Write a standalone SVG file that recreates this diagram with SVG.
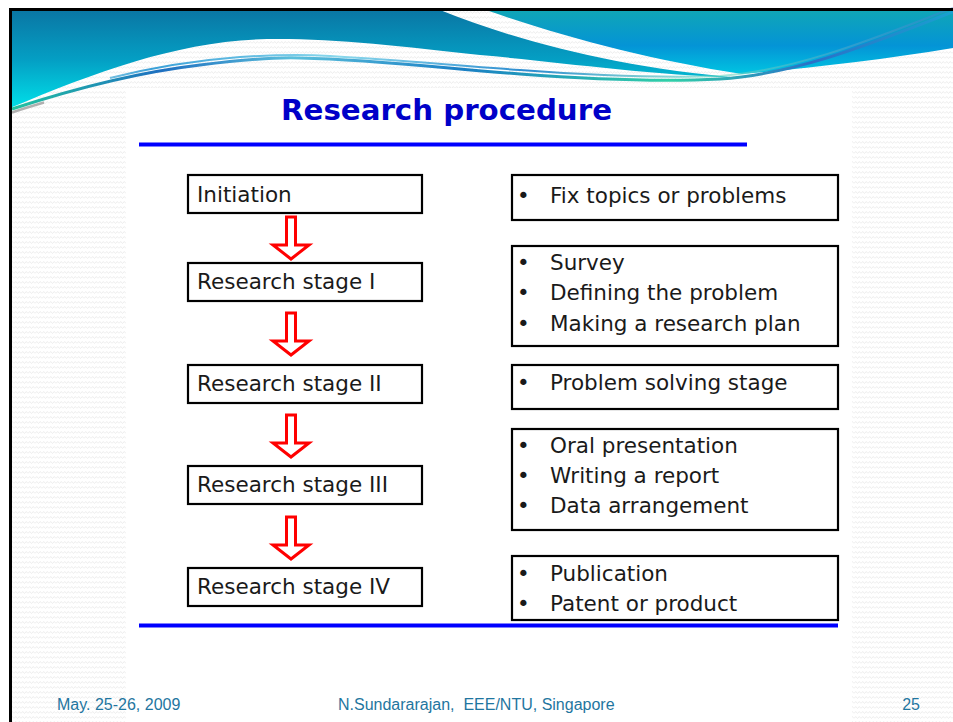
<svg xmlns="http://www.w3.org/2000/svg" width="953" height="722" viewBox="0 0 953 722">
  <defs>
    <pattern id="zigzag" width="7" height="5" patternUnits="userSpaceOnUse">
      <rect width="7" height="5" fill="#ffffff"/>
      <polyline points="0,3.5 1.75,1.5 3.5,3.5 5.25,1.5 7,3.5" fill="none" stroke="#e8e8e8" stroke-width="0.8"/>
    </pattern>
    <linearGradient id="waveLeft" x1="0" y1="10" x2="0" y2="110" gradientUnits="userSpaceOnUse">
      <stop offset="0" stop-color="#0a76a4"/>
      <stop offset="0.5" stop-color="#049fc4"/>
      <stop offset="1" stop-color="#00e2ea"/>
    </linearGradient>
    <linearGradient id="waveRight" x1="0" y1="10" x2="0" y2="75" gradientUnits="userSpaceOnUse">
      <stop offset="0" stop-color="#10a6b6"/>
      <stop offset="0.55" stop-color="#0494d6"/>
      <stop offset="1" stop-color="#00c6e2"/>
    </linearGradient>
    <linearGradient id="stripe" x1="10" y1="0" x2="953" y2="0" gradientUnits="userSpaceOnUse">
      <stop offset="0" stop-color="#22c4a0"/>
      <stop offset="0.16" stop-color="#1e6fc0"/>
      <stop offset="0.3" stop-color="#5cc0dc"/>
      <stop offset="0.48" stop-color="#1a7fc4"/>
      <stop offset="0.7" stop-color="#30d0a8"/>
      <stop offset="0.85" stop-color="#2a70c8"/>
      <stop offset="1" stop-color="#1aa0d0"/>
    </linearGradient>
    <linearGradient id="strand" x1="10" y1="0" x2="953" y2="0" gradientUnits="userSpaceOnUse">
      <stop offset="0" stop-color="#3ab0d0" stop-opacity="0"/>
      <stop offset="0.15" stop-color="#3aa0d8"/>
      <stop offset="0.35" stop-color="#8ad8ec"/>
      <stop offset="0.55" stop-color="#2c8cd0"/>
      <stop offset="0.75" stop-color="#6ad8c0" stop-opacity="0.6"/>
      <stop offset="1" stop-color="#3a80d0" stop-opacity="0.5"/>
    </linearGradient>
    <style>
      .box { fill: #ffffff; stroke: #000000; stroke-width: 2.2; }
      .label { font-family: "DejaVu Sans", Verdana, sans-serif; font-size: 21.5px; fill: #1a1a1a; }
      .arrow { fill: #ffffff; stroke: #ff0000; stroke-width: 3; stroke-linejoin: miter; }
      .rule { stroke: #0000ff; stroke-width: 4; }
      .foot { font-family: "Liberation Sans", Arial, sans-serif; font-size: 16px; fill: #1f76a0; }
    </style>
    <path id="downArrow" d="M -4.5,0 H 4.5 V 28 H 18 L 0,42 L -18,28 H -4.5 Z"/>
  </defs>

  <!-- slide background: textured, with a plain white content panel -->
  <rect width="953" height="722" fill="#ffffff"/>
  <rect x="10" y="10" width="943" height="712" fill="url(#zigzag)"/>
  <rect x="126" y="88" width="726" height="634" fill="#ffffff"/>

  <!-- header swoosh -->
  <g id="header">
    <path d="M10,10 H440 C520,42 620,68 742,78 C640,74 560,62 480,55 C400,46 330,38 267,39 C180,41 100,70 10,108 Z" fill="url(#waveLeft)"/>
    <path d="M486,10 H953 V48 C880,60 810,68 742,74 C650,60 560,36 486,10 Z" fill="url(#waveRight)"/>
    <path d="M12,112.5 C22,109 32,106 44,102.5" fill="none" stroke="#b0b0b0" stroke-width="2.5"/>
    <path d="M12,109 C70,90 140,72 200,65 C240,60 270,57 300,58 C380,60 440,68 520,74 C600,80 660,82 720,79 C800,74 880,40 953,12" fill="none" stroke="url(#stripe)" stroke-width="3"/>
    <path d="M110,78 C150,68 200,60 240,57 C270,55 300,54 330,56 C400,60 460,66 520,70 C600,76 660,78 720,76 C800,70 880,36 953,8" fill="none" stroke="url(#strand)" stroke-width="2"/>
  </g>

  <!-- slide frame -->
  <path d="M10.5,722 V9.5 H953" fill="none" stroke="#000000" stroke-width="3"/>

  <!-- title -->
  <g id="title">
    <text x="281" y="120" textLength="331" lengthAdjust="spacingAndGlyphs" font-family="'DejaVu Sans', Verdana, sans-serif" font-weight="bold" font-size="29" fill="#0000c8">Research procedure</text>
    <line class="rule" x1="139" y1="144.5" x2="747" y2="144.5"/>
  </g>

  <!-- stage boxes -->
  <g id="initiation">
    <rect class="box" x="188" y="175" width="234" height="38"/>
    <text class="label" x="197" y="202">Initiation</text>
  </g>
  <g id="stage1">
    <rect class="box" x="188" y="263" width="234" height="38"/>
    <text class="label" x="197" y="289">Research stage I</text>
  </g>
  <g id="stage2">
    <rect class="box" x="188" y="365" width="234" height="38"/>
    <text class="label" x="197" y="391">Research stage II</text>
  </g>
  <g id="stage3">
    <rect class="box" x="188" y="466" width="234" height="38"/>
    <text class="label" x="197" y="492">Research stage III</text>
  </g>
  <g id="stage4">
    <rect class="box" x="188" y="568" width="234" height="38"/>
    <text class="label" x="197" y="594">Research stage IV</text>
  </g>

  <!-- description boxes -->
  <g id="desc-initiation">
    <rect class="box" x="512" y="175" width="326" height="45"/>
    <text class="label" x="517" y="203">•</text>
    <text class="label" x="550" y="203">Fix topics or problems</text>
  </g>
  <g id="desc-stage1">
    <rect class="box" x="512" y="246" width="326" height="100"/>
    <text class="label" x="517" y="270">•</text>
    <text class="label" x="550" y="270">Survey</text>
    <text class="label" x="517" y="300">•</text>
    <text class="label" x="550" y="300">Defining the problem</text>
    <text class="label" x="517" y="331">•</text>
    <text class="label" x="550" y="331">Making a research plan</text>
  </g>
  <g id="desc-stage2">
    <rect class="box" x="512" y="365" width="326" height="44"/>
    <text class="label" x="517" y="390">•</text>
    <text class="label" x="550" y="390">Problem solving stage</text>
  </g>
  <g id="desc-stage3">
    <rect class="box" x="512" y="429" width="326" height="101"/>
    <text class="label" x="517" y="453">•</text>
    <text class="label" x="550" y="453">Oral presentation</text>
    <text class="label" x="517" y="483">•</text>
    <text class="label" x="550" y="483">Writing a report</text>
    <text class="label" x="517" y="513">•</text>
    <text class="label" x="550" y="513">Data arrangement</text>
  </g>
  <g id="desc-stage4">
    <rect class="box" x="512" y="556" width="326" height="64"/>
    <text class="label" x="517" y="581">•</text>
    <text class="label" x="550" y="581">Publication</text>
    <text class="label" x="517" y="611">•</text>
    <text class="label" x="550" y="611">Patent or product</text>
  </g>

  <!-- flow arrows between stages -->
  <g id="connectors">
    <use href="#downArrow" class="arrow" transform="translate(291,217)"/>
    <use href="#downArrow" class="arrow" transform="translate(291,313)"/>
    <use href="#downArrow" class="arrow" transform="translate(291,415)"/>
    <use href="#downArrow" class="arrow" transform="translate(291,517)"/>
  </g>

  <line class="rule" x1="139" y1="625.5" x2="838" y2="625.5"/>

  <!-- footer -->
  <g id="footer">
    <text class="foot" x="57" y="710">May. 25-26, 2009</text>
    <text class="foot" x="338" y="710" xml:space="preserve">N.Sundararajan,  EEE/NTU, Singapore</text>
    <text class="foot" x="920" y="710" text-anchor="end">25</text>
  </g>
</svg>
